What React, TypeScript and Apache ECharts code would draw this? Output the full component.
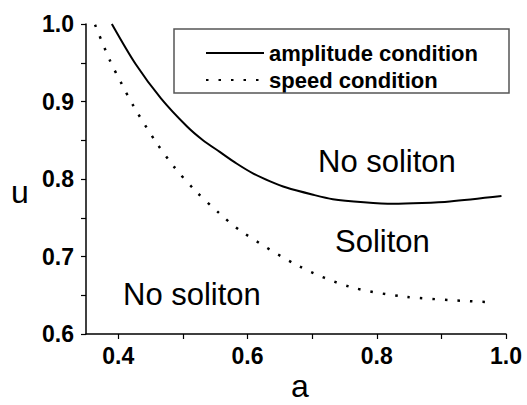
import React, { useEffect, useRef } from "react";
import * as echarts from "echarts";

// amplitude condition (solid): [a, u]
const amplitudeA = [0.39, 0.427, 0.466, 0.506, 0.531, 0.557, 0.583, 0.609, 0.635, 0.66, 0.7, 0.732, 0.78, 0.825, 0.87, 0.913, 0.993];
const amplitudeU = [1.0, 0.948, 0.904, 0.868, 0.85, 0.835, 0.82, 0.807, 0.797, 0.789, 0.78, 0.774, 0.77, 0.768, 0.769, 0.771, 0.778];

// speed condition (dotted): [a, u]
const speedA = [0.364, 0.387, 0.405, 0.425, 0.458, 0.486, 0.519, 0.556, 0.591, 0.681, 0.758, 0.846, 0.977];
const speedU = [0.999, 0.953, 0.923, 0.892, 0.848, 0.816, 0.785, 0.756, 0.732, 0.687, 0.661, 0.648, 0.641];

const xLabels = [0.4, 0.6, 0.8, 1.0];
const xTicks = [0.4, 0.5, 0.6, 0.7, 0.8, 0.9, 1.0];
const yLabels = [0.6, 0.7, 0.8, 0.9, 1.0];
const yTicks = [0.6, 0.65, 0.7, 0.75, 0.8, 0.85, 0.9, 0.95, 1.0];

const seriesNames = ["amplitude condition", "speed condition"];
const regionLabels = ["No soliton", "Soliton", "No soliton"];

const FONT = "'Liberation Sans', Arial, Helvetica, sans-serif";

export default function App() {
  const ref = useRef<HTMLDivElement>(null);
  useEffect(() => {
    if (!ref.current) return;
    document.body.style.margin = "0";
    const chart = echarts.init(ref.current, undefined, { renderer: "svg" });
    const zip = (xs: number[], ys: number[]) => xs.map((x, i) => [x, ys[i]]);
    const axisCommon = {
      axisLine: { show: true, lineStyle: { color: "#000", width: 1.5 } },
      splitLine: { show: false },
    };
    const labelCommon = {
      formatter: (v: number) => v.toFixed(1),
      fontSize: 23,
      fontWeight: "bold",
      color: "#000",
      fontFamily: FONT,
    };
    chart.setOption({
      animation: false,
      backgroundColor: "#fff",
      textStyle: { fontFamily: FONT },
      grid: { left: 86, right: 21, top: 24, bottom: 71, containLabel: false },
      xAxis: {
        type: "value",
        min: 0.35,
        max: 1.0,
        ...axisCommon,
        axisTick: { show: true, inside: false, length: 5, customValues: xTicks, lineStyle: { color: "#000", width: 1.2 } },
        axisLabel: { ...labelCommon, customValues: xLabels, margin: 10 },
      },
      yAxis: {
        type: "value",
        min: 0.6,
        max: 1.0,
        ...axisCommon,
        axisTick: { show: true, inside: false, length: 5, customValues: yTicks, lineStyle: { color: "#000", width: 1.2 } },
        axisLabel: { ...labelCommon, customValues: yLabels, margin: 12 },
      },
      legend: {
        orient: "vertical",
        left: 205,
        top: 41.5,
        padding: 0,
        itemWidth: 58,
        itemHeight: 14,
        itemGap: 4,
        itemStyle: { opacity: 0 },
        textStyle: { fontSize: 22, fontWeight: "bold", color: "#000", fontFamily: FONT, lineHeight: 23 },
        data: seriesNames,
      },
      series: [
        {
          name: seriesNames[0],
          type: "line",
          data: zip(amplitudeA, amplitudeU),
          smooth: 0.3,
          symbol: "none",
          lineStyle: { color: "#000", width: 2 },
          itemStyle: { color: "#000" },
        },
        {
          name: seriesNames[1],
          type: "line",
          data: zip(speedA, speedU),
          smooth: 0.3,
          symbol: "none",
          lineStyle: { color: "#000", width: 2.5, type: [2.5, 10] },
          itemStyle: { color: "#000" },
        },
      ],
      graphic: [
        {
          type: "rect",
          shape: { x: 174, y: 29, width: 335, height: 64 },
          style: { fill: "none", stroke: "#555", lineWidth: 1.5 },
          z: 10,
        },
        {
          type: "text",
          x: 318, y: 161,
          style: { text: regionLabels[0], fontSize: 31, fontFamily: FONT, fill: "#000", textVerticalAlign: "middle" },
        },
        {
          type: "text",
          x: 335, y: 241,
          style: { text: regionLabels[1], fontSize: 31, fontFamily: FONT, fill: "#000", textVerticalAlign: "middle" },
        },
        {
          type: "text",
          x: 123, y: 294,
          style: { text: regionLabels[2], fontSize: 31, fontFamily: FONT, fill: "#000", textVerticalAlign: "middle" },
        },
        {
          type: "text",
          x: 20, y: 192,
          style: { text: "u", fontSize: 32, fontFamily: FONT, fill: "#000", textAlign: "center", textVerticalAlign: "middle" },
        },
        {
          type: "text",
          x: 300, y: 386,
          style: { text: "a", fontSize: 32, fontFamily: FONT, fill: "#000", textAlign: "center", textVerticalAlign: "middle" },
        },
      ],
    });
    return () => chart.dispose();
  }, []);
  return <div ref={ref} style={{ width: 527, height: 405 }} />;
}
